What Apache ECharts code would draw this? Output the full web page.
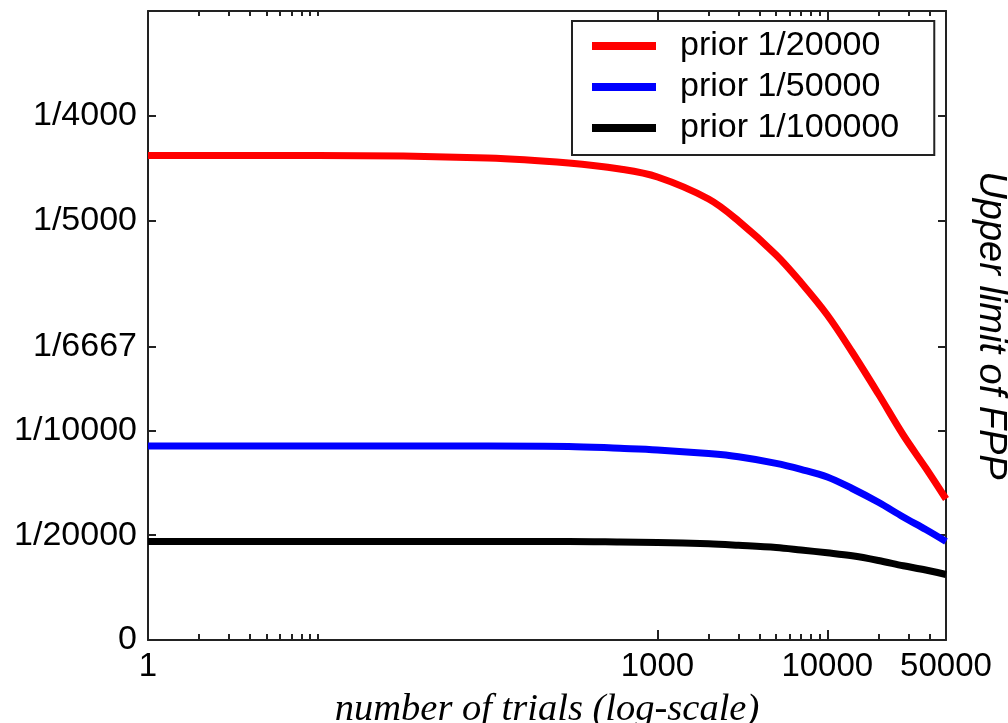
<!DOCTYPE html>
<html>
<head>
<meta charset="utf-8">
<script src="https://cdn.jsdelivr.net/npm/echarts@6/dist/echarts.min.js"></script>
<style>
  html, body { margin: 0; padding: 0; background: #fff; }
  #main { width: 1008px; height: 723px; }
</style>
</head>
<body>
<div id="main"></div>
<script>
// number of trials (x, log scale)
var xTrials = [1, 10, 100, 300, 600, 1000, 2000, 3000, 5000, 7000, 10000, 14000, 20000, 28000, 38000, 50000];

// upper limit of FPP for each prior
var fpp20000 = [2.3108e-4, 2.3108e-4, 2.2989e-4, 2.2751e-4, 2.2464e-4, 2.2083e-4, 2.1033e-4, 1.9984e-4, 1.8363e-4, 1.7051e-4, 1.5501e-4, 1.3736e-4, 1.1733e-4, 0.9777e-4, 0.8204e-4, 0.6725e-4];
var fpp50000 = [0.9253e-4, 0.9253e-4, 0.9253e-4, 0.9234e-4, 0.9143e-4, 0.9067e-4, 0.8890e-4, 0.8738e-4, 0.8423e-4, 0.8137e-4, 0.7774e-4, 0.7226e-4, 0.6568e-4, 0.5866e-4, 0.5270e-4, 0.4698e-4];
var fpp100000 = [0.4698e-4, 0.4698e-4, 0.4698e-4, 0.4698e-4, 0.4674e-4, 0.4650e-4, 0.4588e-4, 0.4517e-4, 0.4412e-4, 0.4293e-4, 0.4159e-4, 0.4016e-4, 0.3792e-4, 0.3544e-4, 0.3339e-4, 0.3124e-4];

var seriesNames = ['prior 1/20000', 'prior 1/50000', 'prior 1/100000'];

// axis ticks / labels
var xLabelValues = [1, 1000, 10000, 50000];
var xMajorTicks = [1000, 10000];
var xMinorTicks = [2, 3, 4, 5, 6, 7, 8, 9, 10, 2000, 3000, 4000, 5000, 6000, 7000, 8000, 9000, 20000, 30000, 40000];
var yTickValues = [0, 5e-5, 1e-4, 1.4e-4, 2e-4, 2.5e-4];
var yTickLabels = ['0', '1/20000', '1/10000', '1/6667', '1/5000', '1/4000'];

function pairs(ys) {
    var out = [];
    for (var i = 0; i < xTrials.length; i++) {
        out.push([xTrials[i], ys[i]]);
    }
    return out;
}

function yLabel(v) {
    for (var i = 0; i < yTickValues.length; i++) {
        if (Math.abs(yTickValues[i] - v) < 1e-9) return yTickLabels[i];
    }
    return '';
}

var axisColor = '#222';
var font = 'Liberation Sans, Arial, sans-serif';

function xAxisBase(pos, ticks, len, showLine) {
    return {
        type: 'log',
        logBase: 10,
        position: pos,
        min: 1,
        max: 50000,
        axisLine: { show: showLine, lineStyle: { color: axisColor, width: 2 } },
        axisTick: { show: true, inside: true, length: len, customValues: ticks,
                    lineStyle: { color: axisColor, width: 2 } },
        axisLabel: { show: false },
        splitLine: { show: false },
        minorTick: { show: false }
    };
}

var xMain = xAxisBase('bottom', xMajorTicks, 10, true);
xMain.axisLabel = {
    show: true,
    customValues: xLabelValues,
    formatter: function (v) { return String(Math.round(v)); },
    color: '#000',
    fontFamily: font,
    fontSize: 33,
    margin: 10
};
xMain.name = 'number of trials (log-scale)';
xMain.nameLocation = 'middle';
xMain.nameGap = 50;
xMain.nameTextStyle = {
    fontFamily: 'Liberation Serif, Times New Roman, serif',
    fontStyle: 'italic',
    fontSize: 38.5,
    color: '#000'
};

function yAxisBase(pos, showLabels) {
    return {
        type: 'value',
        position: pos,
        min: 0,
        max: 3e-4,
        axisLine: { show: true, lineStyle: { color: axisColor, width: 2 } },
        axisTick: { show: true, inside: true, length: 8, customValues: yTickValues,
                    lineStyle: { color: axisColor, width: 2 } },
        axisLabel: {
            show: showLabels,
            customValues: yTickValues,
            formatter: yLabel,
            color: '#000',
            fontFamily: font,
            fontSize: 34,
            margin: 11
        },
        splitLine: { show: false }
    };
}

var yRight = yAxisBase('right', false);
yRight.name = 'Upper limit of FPP';
yRight.nameLocation = 'middle';
yRight.nameRotate = -90;
yRight.nameGap = 26;
yRight.nameTextStyle = {
    fontFamily: font,
    fontStyle: 'italic',
    fontSize: 38,
    color: '#000'
};

var myChart = echarts.init(document.getElementById('main'), null, { renderer: 'canvas' });

var option = {
    backgroundColor: '#fff',
    animation: false,
    grid: { left: 148, right: 62, top: 11, bottom: 83, outerBoundsMode: 'none', containLabel: false },
    legend: {
        orient: 'vertical',
        left: 572,
        top: 21,
        data: seriesNames,
        icon: 'rect',
        itemWidth: 64,
        itemHeight: 8,
        itemGap: 7,
        padding: [8, 35, 10, 20],
        borderColor: '#222',
        borderWidth: 2,
        backgroundColor: '#fff',
        textStyle: { fontFamily: font, fontSize: 34, color: '#000', padding: [0, 0, 0, 19] }
    },
    xAxis: [
        xMain,
        xAxisBase('bottom', xMinorTicks, 6, false),
        xAxisBase('top', xMajorTicks, 10, true),
        xAxisBase('top', xMinorTicks, 5, false)
    ],
    yAxis: [
        yAxisBase('left', true),
        yRight
    ],
    series: [
        {
            name: seriesNames[0],
            type: 'line',
            xAxisIndex: 0, yAxisIndex: 0,
            data: pairs(fpp20000),
            symbol: 'none',
            smooth: 0.35,
            color: '#ff0000',
            lineStyle: { width: 7, color: '#ff0000', join: 'round' }
        },
        {
            name: seriesNames[1],
            type: 'line',
            xAxisIndex: 0, yAxisIndex: 0,
            data: pairs(fpp50000),
            symbol: 'none',
            smooth: 0.35,
            color: '#0000ff',
            lineStyle: { width: 7, color: '#0000ff', join: 'round' }
        },
        {
            name: seriesNames[2],
            type: 'line',
            xAxisIndex: 0, yAxisIndex: 0,
            data: pairs(fpp100000),
            symbol: 'none',
            smooth: 0.35,
            color: '#000000',
            lineStyle: { width: 7, color: '#000000', join: 'round' }
        }
    ]
};

myChart.setOption(option);
</script>
</body>
</html>
